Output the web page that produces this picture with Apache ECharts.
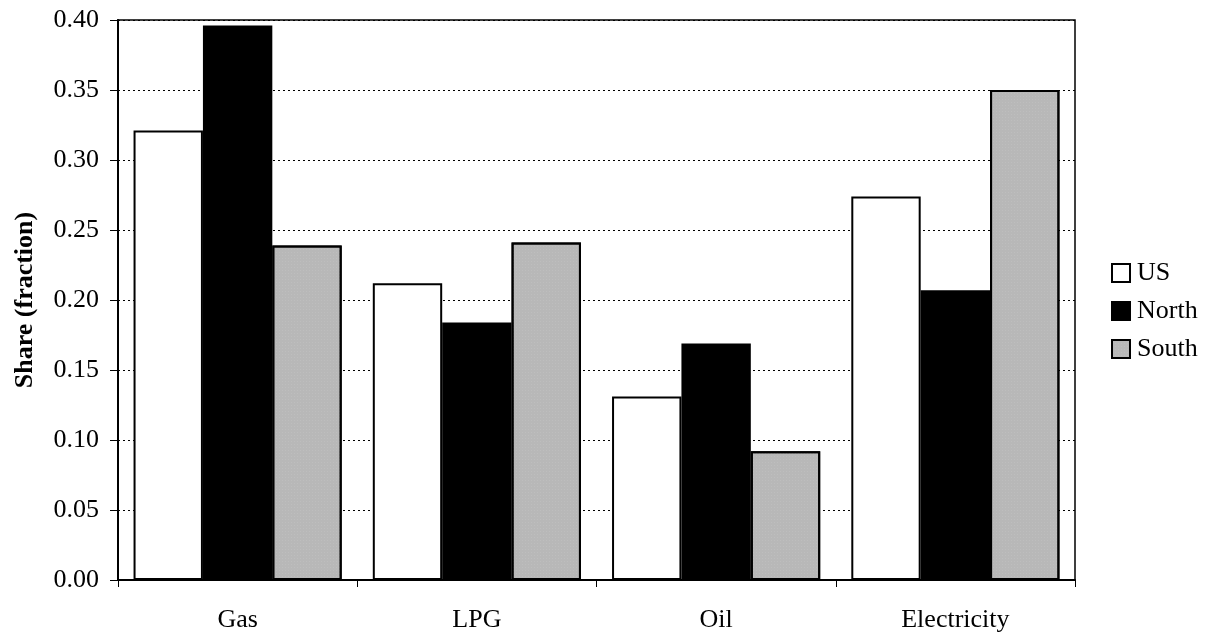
<!DOCTYPE html>
<html>
<head>
<meta charset="utf-8">
<script src="https://cdn.jsdelivr.net/npm/echarts@6/dist/echarts.min.js"></script>
<style>
html,body{margin:0;padding:0;background:#fff;}
#chart{width:1205px;height:637px;}
</style>
</head>
<body>
<div id="chart"></div>
<script>
const categories = ['Gas', 'LPG', 'Oil', 'Electricity'];
const usValues = [0.321, 0.212, 0.131, 0.274];
const northValues = [0.396, 0.184, 0.169, 0.207];
const southValues = [0.239, 0.241, 0.092, 0.350];
const yTicks = { min: 0, max: 0.40, interval: 0.05 };

const FONT = 'Liberation Serif';
const chart = echarts.init(document.getElementById('chart'));
const barBase = { type: 'bar', barGap: '0%', barCategoryGap: '13%' };
chart.setOption({
  animation: false,
  backgroundColor: '#fff',
  textStyle: { fontFamily: FONT, color: '#000' },
  grid: { left: 118, right: 130, top: 20, bottom: 57, show: true, borderColor: '#000', borderWidth: 1.5, containLabel: false },
  legend: {
    orient: 'vertical', left: 1106, top: 255,
    itemWidth: 18, itemHeight: 18, itemGap: 12,
    icon: 'rect',
    textStyle: { fontFamily: FONT, fontSize: 26, color: '#000', padding: [0,0,0,2] },
    data: ['US', 'North', 'South']
  },
  xAxis: {
    type: 'category', data: categories,
    axisLine: { lineStyle: { color: '#000', width: 2 } },
    axisTick: { show: true, length: 7, lineStyle: { color: '#000' } },
    axisLabel: { fontFamily: FONT, fontSize: 26, color: '#000', margin: 27 },
    splitLine: { show: false }
  },
  yAxis: {
    type: 'value', min: yTicks.min, max: yTicks.max, interval: yTicks.interval,
    name: 'Share (fraction)', nameLocation: 'middle', nameGap: 80,
    nameTextStyle: { fontFamily: FONT, fontSize: 26, fontWeight: 'bold', color: '#000' },
    axisLine: { show: true, lineStyle: { color: '#000', width: 2 } },
    axisTick: { show: true, length: 8, lineStyle: { color: '#000' } },
    axisLabel: { fontFamily: FONT, fontSize: 26, color: '#000', margin: 19, formatter: v => v.toFixed(2) },
    splitLine: { show: true, lineStyle: { color: '#000', type: [2, 3], width: 1 } }
  },
  series: [
    Object.assign({}, barBase, { name: 'US', data: usValues, itemStyle: { color: '#fff', borderColor: '#000', borderWidth: 2 } }),
    Object.assign({}, barBase, { name: 'North', data: northValues, itemStyle: { color: '#000', borderColor: '#000', borderWidth: 2 } }),
    Object.assign({}, barBase, { name: 'South', data: southValues, itemStyle: { color: '#b8b8b8', borderColor: '#000', borderWidth: 2,
      decal: { symbol: 'rect', symbolSize: 0.5, dashArrayX: [1, 2], dashArrayY: [1, 2], color: 'rgba(255,255,255,0.35)', rotation: 0 } } })
  ]
});
</script>
</body>
</html>
